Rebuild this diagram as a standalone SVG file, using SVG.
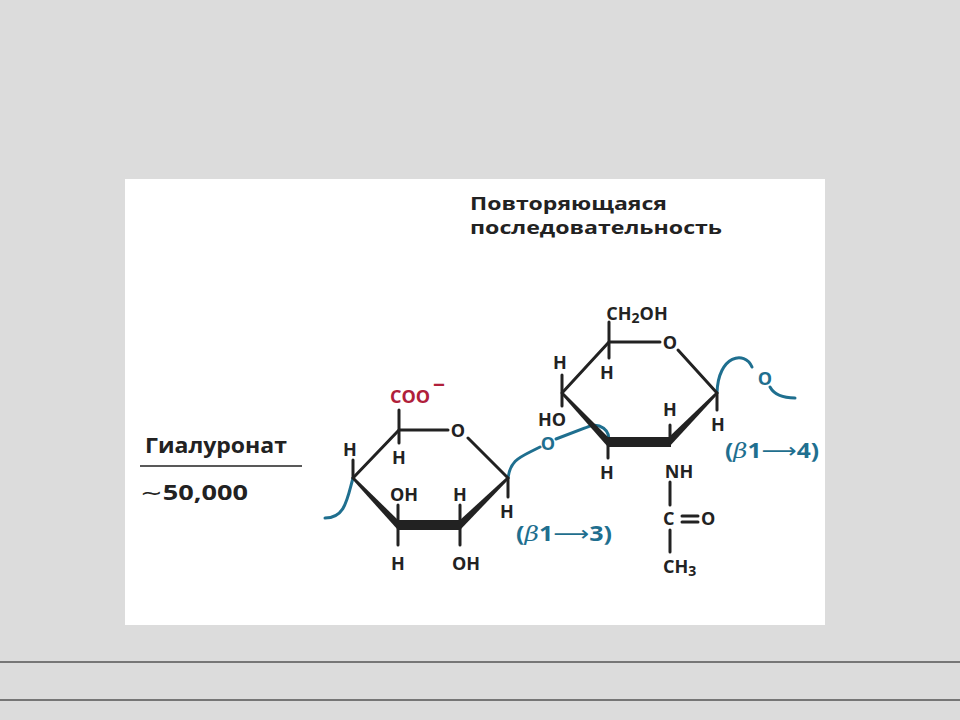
<svg xmlns="http://www.w3.org/2000/svg" width="960" height="720" viewBox="0 0 960 720">
<style>
text{font-family:"Open Sans","Liberation Sans",sans-serif;font-weight:bold;font-size:18px;fill:#222}
.b{fill:#1f6f8f}.r{fill:#b0203a}
.bd{stroke:#222;stroke-width:3;fill:none;stroke-linecap:round}
.bl{stroke:#1f6f8f;stroke-width:3;fill:none;stroke-linecap:round}
.m{text-anchor:middle}
.ar{font-family:"DejaVu Sans",sans-serif;font-weight:normal}
.be{font-family:"DejaVu Serif",serif;font-style:italic;font-weight:normal}
.lg{font-size:21px}
.sub{font-size:14px}
</style>
<rect width="960" height="720" fill="#dcdcdc"/>
<rect x="125" y="179" width="700" height="446" fill="#fff"/>
<line x1="0" y1="662" x2="960" y2="662" stroke="#555" stroke-width="1.5"/>
<line x1="0" y1="700" x2="960" y2="700" stroke="#555" stroke-width="1.5"/>
<g id="title"><text x="470" y="210" textLength="197" lengthAdjust="spacingAndGlyphs">Повторяющаяся</text><text x="470" y="234" textLength="252" lengthAdjust="spacingAndGlyphs">последовательность</text></g>
<g id="label"><text class="lg" x="145" y="453" textLength="142" lengthAdjust="spacingAndGlyphs">Гиалуронат</text><line x1="140" y1="466" x2="302" y2="466" stroke="#222" stroke-width="1.5"/><text class="lg" x="140" y="500" textLength="108" lengthAdjust="spacingAndGlyphs"><tspan class="ar">∼</tspan>50,000</text></g>
<g id="connectors">
<path class="bl" d="M325 518 C345 518 347 500 353 478"/>
<path class="bl" d="M508 478 C510 462 518 458 530 452 L540 447"/>
<path class="bl" d="M556 439 L585 428 C600 420 612 432 608 442"/>
<path class="bl" d="M717 393 C718 355 745 350 752 367"/>
<path class="bl" d="M770 387 C775 396 785 398 795 398"/>
<text class="b m" x="548" y="450">O</text>
<text class="b m" x="765" y="385">O</text>
<text class="b lg" x="516" y="541" textLength="96" lengthAdjust="spacingAndGlyphs">(<tspan class="be">β</tspan>1<tspan class="ar">⟶</tspan>3)</text>
<text class="b lg" x="725" y="458" textLength="94" lengthAdjust="spacingAndGlyphs">(<tspan class="be">β</tspan>1<tspan class="ar">⟶</tspan>4)</text>
</g>
<g id="ring1">
<path class="bd" d="M353 478 L399 430 L448 430 M468 438 L508 478"/>
<polygon points="353,476 353,480 398,530 398,520" fill="#222"/>
<rect x="397" y="520" width="64" height="10" fill="#222"/>
<polygon points="460,520 460,530 508,480 508,476" fill="#222"/>
<text class="m" x="458" y="437">O</text>
<path class="bd" d="M399 430 V410 M399 430 V443 M353 478 V460 M398 525 V505 M398 525 V545 M460 525 V505 M460 525 V545 M508 478 V497"/>
<text class="r m" x="410" y="403">COO</text><text class="r lg" x="433" y="392">−</text>
<text class="m" x="399" y="464">H</text>
<text class="m" x="350" y="456">H</text>
<text class="m" x="404" y="501">OH</text>
<text class="m" x="398" y="570">H</text>
<text class="m" x="460" y="501">H</text>
<text class="m" x="466" y="570">OH</text>
<text class="m" x="507" y="518">H</text>
</g>
<g id="ring2">
<path class="bd" d="M562 393 L609 342 L660 342 M678 350 L717 393"/>
<polygon points="562,391 562,395 608,447 608,437" fill="#222"/>
<rect x="607" y="437" width="64" height="10" fill="#222"/>
<polygon points="669,437 669,447 717,395 717,391" fill="#222"/>
<text class="m" x="670" y="349">O</text>
<path class="bd" d="M609 342 V322 M609 342 V358 M562 393 V375 M562 393 V406 M608 442 V458 M670 442 V425 M717 393 V410 M670 482 V505 M670 530 V552"/>
<text class="m" x="637" y="320">CH<tspan class="sub" dy="3">2</tspan><tspan dy="-3">OH</tspan></text>
<text class="m" x="607" y="379">H</text>
<text class="m" x="560" y="369">H</text>
<text class="m" x="552" y="426">HO</text>
<text class="m" x="607" y="479">H</text>
<text class="m" x="670" y="416">H</text>
<text class="m" x="718" y="431">H</text>
<text class="m" x="679" y="478">NH</text>
<text x="663" y="525">C</text><path class="bd" d="M682 516 H698 M682 522 H698" stroke-width="2"/><text x="701" y="525">O</text>
<text x="663" y="573">CH<tspan class="sub" dy="3">3</tspan></text>
</g>
</svg>
